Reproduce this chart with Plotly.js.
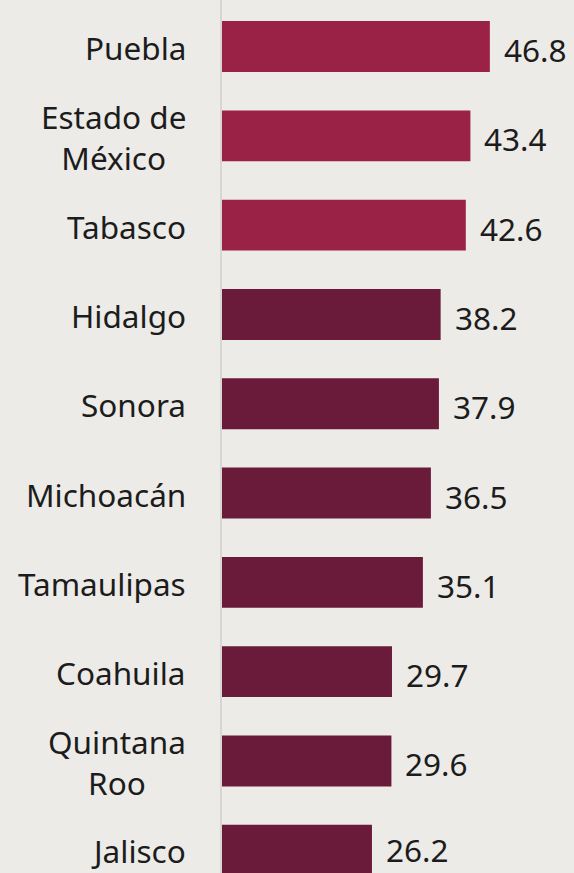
<!DOCTYPE html>
<html>
<head>
<meta charset="utf-8">
<script src="https://cdn.plot.ly/plotly-3.0.1.min.js"></script>
<style>
html,body{margin:0;padding:0;background:#ecebe7;}
#chart{width:574px;height:873px;}
</style>
</head>
<body>
<div id="chart"></div>
<script>
var states = ["Puebla", "Estado de<br>México", "Tabasco", "Hidalgo", "Sonora", "Michoacán", "Tamaulipas", "Coahuila", "Quintana<br>Roo", "Jalisco"];
var values = [46.8, 43.4, 42.6, 38.2, 37.9, 36.5, 35.1, 29.7, 29.6, 26.2];
var highlight = [true, true, true, false, false, false, false, false, false, false];

var colors = highlight.map(function(h){ return h ? "#9b2247" : "#6b1b3a"; });

var trace = {
  type: "bar",
  orientation: "h",
  x: values,
  y: states,
  marker: {color: colors, line: {width: 0}},
  width: 0.57,
  hoverinfo: "none"
};

var annotations = [];
states.forEach(function(s, i){
  var last = (i === states.length - 1);
  annotations.push({
    x: 0, y: s, xref: "x", yref: "y",
    text: s, showarrow: false,
    xanchor: "right", yanchor: "middle", align: "center",
    xshift: -34, yshift: last ? 0 : -1,
    font: {family: "Noto Sans", size: 31.5, color: "#1c1c1c"}
  });
  annotations.push({
    x: values[i], y: s, xref: "x", yref: "y",
    text: values[i].toFixed(1), showarrow: false,
    xanchor: "left", yanchor: "middle",
    xshift: 12, yshift: last ? 1 : -3,
    font: {family: "Noto Sans", size: 31.5, color: "#1c1c1c"}
  });
});

var layout = {
  width: 574, height: 873,
  margin: {l: 222, r: 0, t: 0, b: 0, pad: 0},
  paper_bgcolor: "#ecebe7",
  plot_bgcolor: "rgba(0,0,0,0)",
  showlegend: false,
  bargap: 0.43,
  xaxis: {range: [0, 61.5], showgrid: false, zeroline: false, showticklabels: false, showline: false, fixedrange: true},
  yaxis: {type: "category", range: [9.255, -0.521], showgrid: false, zeroline: false, showticklabels: false,
          showline: true, linecolor: "#d6d6d4", linewidth: 2, fixedrange: true},
  annotations: annotations
};

Plotly.newPlot("chart", [trace], layout, {displayModeBar: false, staticPlot: true});
</script>
</body>
</html>
